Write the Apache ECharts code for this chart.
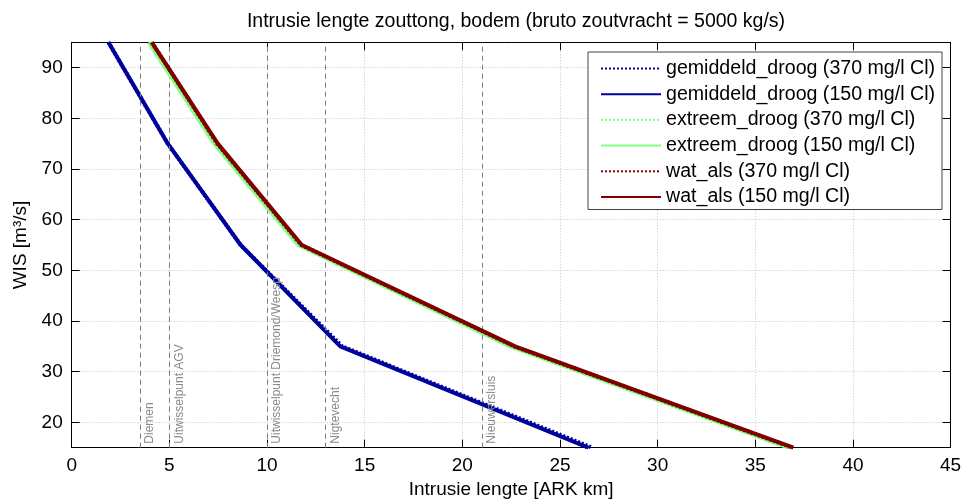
<!DOCTYPE html>
<html><head><meta charset="utf-8">
<script src="https://cdn.jsdelivr.net/npm/echarts@6/dist/echarts.min.js"></script>
<style>html,body{margin:0;padding:0;background:#fff}#c{width:964px;height:502px}</style>
</head><body><div id="c"></div>
<script>
// WIS discharge levels [m3/s]
const wis = [95, 75, 55, 35, 15];
// intrusion length [ARK km] per series
const gemiddeld370 = [1.88, 4.92, 8.65, 13.85, 26.65];
const gemiddeld150 = [1.88, 4.92, 8.65, 13.75, 26.45];
const extreem370 = [4.0, 7.35, 11.65, 22.55, 36.8];
const extreem150 = [3.95, 7.3, 11.6, 22.45, 36.7];
const watals370 = [4.1, 7.45, 11.75, 22.65, 36.9];
const watals150 = [4.1, 7.48, 11.78, 22.7, 36.95];

const seriesNames = [
  'gemiddeld_droog (370 mg/l Cl)', 'gemiddeld_droog (150 mg/l Cl)',
  'extreem_droog (370 mg/l Cl)', 'extreem_droog (150 mg/l Cl)',
  'wat_als (370 mg/l Cl)', 'wat_als (150 mg/l Cl)'
];
const yTickValues = [20, 30, 40, 50, 60, 70, 80, 90];
const markerNames = ['Diemen', 'Uitwisselpunt AGV', 'Uitwisselpunt Driemond/Weesp', 'Nigtevecht', 'Nieuwersluis'];
const markerKm = [3.5, 5, 10, 13, 21];

const FONT = 'Liberation Sans, Arial, sans-serif';
const FS = 19;
const pair = xs => xs.map((x, i) => [x, wis[i]]);

function lineSeries(name, xs, color, dotted, z) {
  return {
    name: name, type: 'line', data: pair(xs), symbol: 'none', showSymbol: false,
    z: z, silent: true, animation: false,
    lineStyle: { color: color, width: 4, type: dotted ? [2, 2] : 'solid' },
    itemStyle: { color: color }
  };
}

const series = [
  lineSeries(seriesNames[0], gemiddeld370, '#00009c', true, 3),
  lineSeries(seriesNames[1], gemiddeld150, '#00009c', false, 4),
  lineSeries(seriesNames[2], extreem370, '#80ff80', true, 5),
  lineSeries(seriesNames[3], extreem150, '#80ff80', false, 6),
  lineSeries(seriesNames[4], watals370, '#800000', true, 7),
  lineSeries(seriesNames[5], watals150, '#800000', false, 8)
];
series.push({
  name: 'markers', type: 'line', data: [], symbol: 'none', silent: true, animation: false, z: 2,
  markLine: {
    silent: true, symbol: 'none', animation: false,
    lineStyle: { color: '#7a7a7a', type: [5, 4], width: 1 },
    label: {
      show: true, position: 'insideStartBottom', color: '#8a8a8a',
      fontFamily: FONT, fontSize: 12, distance: 4,
      formatter: p => p.name
    },
    data: markerKm.map((km, i) => [{ name: markerNames[i], coord: [km, 15] }, { coord: [km, 95] }])
  }
});

const chart = echarts.init(document.getElementById('c'), null, { renderer: 'canvas' });
chart.setOption({
  animation: false,
  backgroundColor: '#fff',
  title: {
    text: 'Intrusie lengte zouttong, bodem (bruto zoutvracht = 5000 kg/s)',
    left: 511, top: 7, textAlign: 'center',
    textStyle: { fontFamily: FONT, fontSize: 19.5, fontWeight: 'normal', color: '#000' }
  },
  grid: { left: 71.7, right: 13.4, top: 42.3, bottom: 54.3, containLabel: false, outerBoundsMode: 'none' },
  legend: {
    data: seriesNames, orient: 'vertical', left: 588, top: 52,
    backgroundColor: '#fff', borderColor: '#444', borderWidth: 1,
    padding: [6.5, 7, 2.5, 12], itemWidth: 60, itemHeight: 14, itemGap: 5.7,
    itemStyle: { opacity: 0 },
    textStyle: { fontFamily: FONT, fontSize: 19.6, lineHeight: 19, color: '#000' }
  },
  xAxis: [{
    type: 'value', min: 0, max: 45, interval: 5, position: 'bottom',
    name: 'Intrusie lengte [ARK km]', nameLocation: 'middle', nameGap: 33,
    nameTextStyle: { fontFamily: FONT, fontSize: FS, color: '#000' },
    axisLine: { show: true, onZero: false, lineStyle: { color: '#000', width: 1 } },
    axisTick: { show: true, inside: true, length: 8, lineStyle: { color: '#000' } },
    axisLabel: { fontFamily: FONT, fontSize: FS, color: '#000', margin: 9 },
    splitLine: { show: true, lineStyle: { color: '#c4c4c4', type: [1, 2], width: 1 } }
  }, {
    type: 'value', min: 0, max: 45, interval: 5, position: 'top',
    axisLine: { show: true, onZero: false, lineStyle: { color: '#000', width: 1 } },
    axisTick: { show: true, inside: true, length: 8, lineStyle: { color: '#000' } },
    axisLabel: { show: false }, splitLine: { show: false }
  }],
  yAxis: [{
    type: 'value', min: 15, max: 95, position: 'left',
    name: 'WIS [m³/s]', nameLocation: 'middle', nameGap: 37, nameRotate: 90,
    nameTextStyle: { fontFamily: FONT, fontSize: FS, color: '#000' },
    axisLine: { show: true, onZero: false, lineStyle: { color: '#000', width: 1 } },
    axisTick: { show: true, inside: true, length: 8, customValues: yTickValues, lineStyle: { color: '#000' } },
    axisLabel: { fontFamily: FONT, fontSize: FS, color: '#000', margin: 9, customValues: yTickValues },
    splitLine: { show: true, lineStyle: { color: '#c4c4c4', type: [1, 2], width: 1 } }
  }, {
    type: 'value', min: 15, max: 95, position: 'right',
    axisLine: { show: true, onZero: false, lineStyle: { color: '#000', width: 1 } },
    axisTick: { show: true, inside: true, length: 8, customValues: yTickValues, lineStyle: { color: '#000' } },
    axisLabel: { show: false, customValues: yTickValues }, splitLine: { show: false }
  }],
  series: series
});
</script>
</body></html>
